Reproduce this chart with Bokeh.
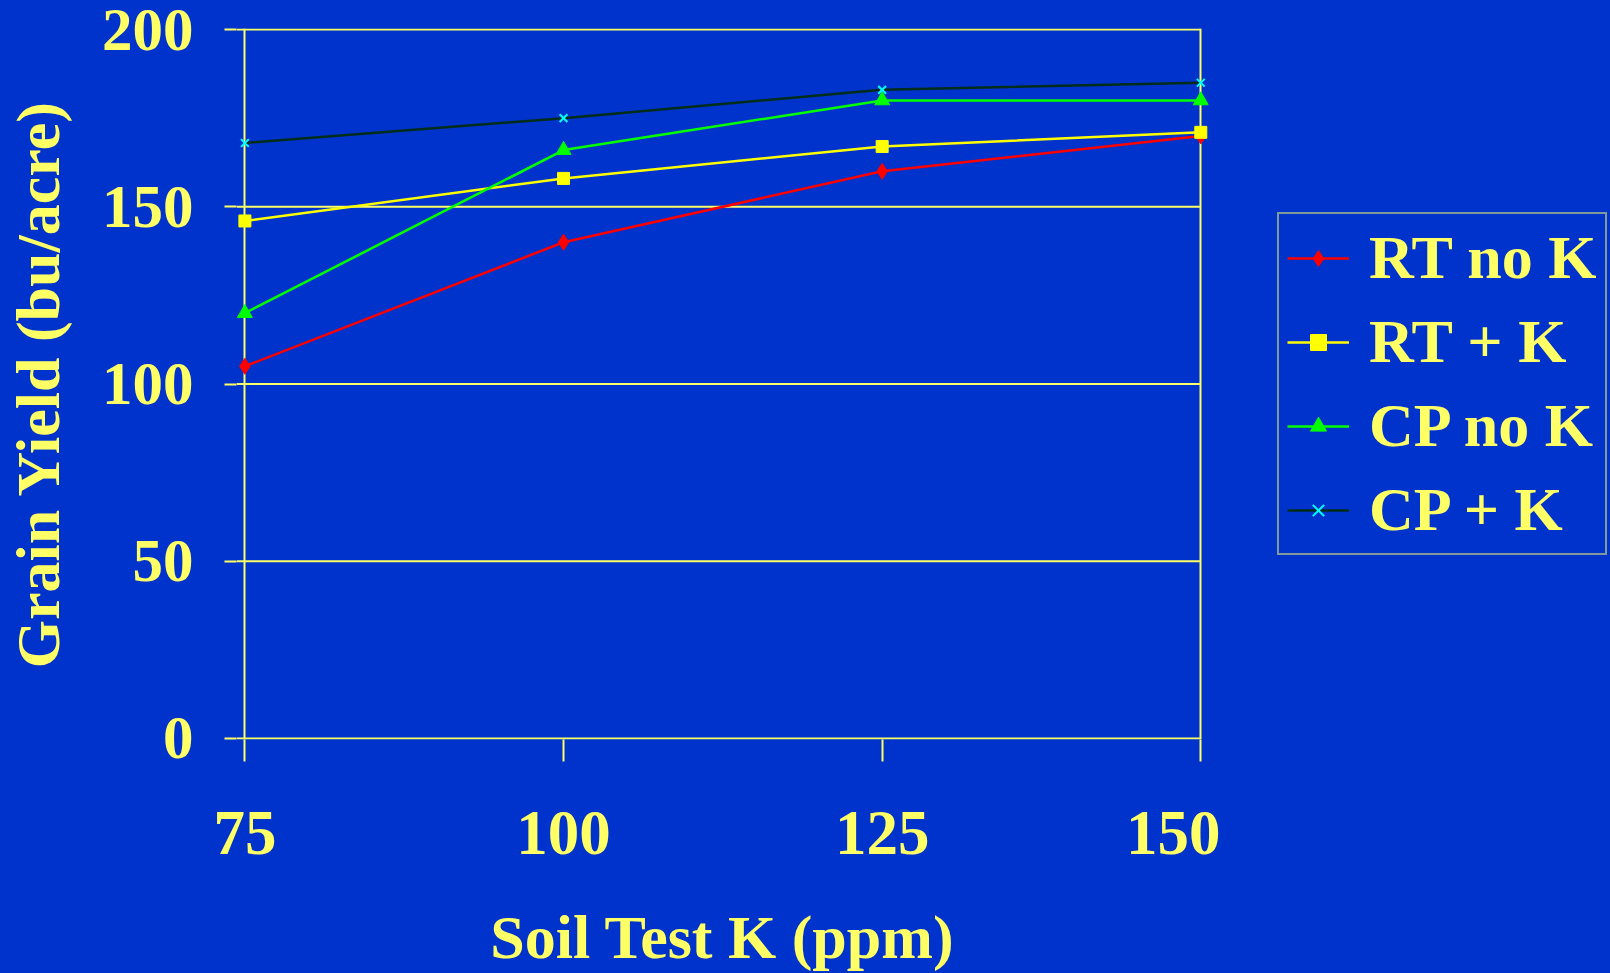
from bokeh.plotting import figure
from bokeh.layouts import row
from bokeh.models import Range1d, FixedTicker, Legend, LegendItem
from bokeh.embed import file_html
from bokeh.resources import INLINE

# ---- data ----
soil_k = [75, 100, 125, 150]
x_ticks = [75, 100, 125, 150]
y_ticks = [0, 50, 100, 150, 200]
rt_no_k = [105, 140, 160, 170]
rt_plus_k = [146, 158, 167, 171]
cp_no_k = [120, 166, 180, 180]
cp_plus_k = [168, 175, 183, 185]
series_names = ["RT no K", "RT + K", "CP no K", "CP + K"]
x_title = "Soil Test K (ppm)"
y_title = "Grain Yield (bu/acre)"

BG = "#0033CC"
YEL = "#FFFF66"
FONT = "Liberation Serif"

# a little room on both sides so the end markers are not cut by the frame
x_start, x_end = x_ticks[0] - 0.659, x_ticks[-1] + 0.604
y_start, y_end = y_ticks[0] - 0.3, y_ticks[-1] + 0.3

p = figure(width=1220, height=973, x_range=Range1d(x_start, x_end), y_range=Range1d(y_start, y_end),
           output_backend="svg", toolbar_location=None,
           min_border_left=236, min_border_right=12, min_border_top=28, min_border_bottom=234)
p.background_fill_color = BG
p.border_fill_color = BG
p.outline_line_color = None

# vertical frame lines at first and last category
p.xgrid.ticker = FixedTicker(ticks=[x_ticks[0], x_ticks[-1]])
p.xgrid.grid_line_color = YEL
p.xgrid.grid_line_width = 2
p.xgrid.bounds = (y_ticks[0], y_ticks[-1])
# horizontal grid lines, ending at the last category
p.ygrid.visible = False
n = len(y_ticks)
p.segment(x0=[x_start] * n, x1=[x_ticks[-1]] * n, y0=y_ticks, y1=y_ticks,
          line_color=YEL, line_width=2)

for ax in (p.xaxis[0], p.yaxis[0]):
    ax.axis_line_color = None
    ax.major_tick_line_color = YEL
    ax.major_tick_line_width = 2
    ax.major_tick_in = 0
    ax.minor_tick_line_color = None
    ax.major_label_text_font = FONT
    ax.major_label_text_font_style = "bold"
    ax.major_label_text_color = YEL
    ax.axis_label_text_font = FONT
    ax.axis_label_text_font_style = "bold"
    ax.axis_label_text_color = YEL

p.xaxis.ticker = FixedTicker(ticks=x_ticks)
p.xaxis.bounds = (x_ticks[0], x_ticks[-1])
p.xaxis.major_tick_out = 22
p.xaxis.major_label_text_font_size = "63px"
p.xaxis.major_label_standoff = 50
p.xaxis.axis_label = x_title
p.xaxis.axis_label_text_font_size = "62px"
p.xaxis.axis_label_standoff = 46

p.yaxis.ticker = FixedTicker(ticks=y_ticks)
p.yaxis.major_tick_out = 12
p.yaxis.major_label_text_font_size = "61px"
p.yaxis.major_label_standoff = 31
p.yaxis.axis_label = y_title
p.yaxis.axis_label_text_font_size = "62px"
p.yaxis.axis_label_standoff = 27

specs = [
    (rt_no_k, "#FF0000", "diamond", "#FF0000", 16),
    (rt_plus_k, "#FFFF00", "square", "#FFFF00", 12),
    (cp_no_k, "#00FF00", "triangle", "#00FF00", 15),
    (cp_plus_k, "#002E1A", "x", "#00FFFF", 11),
]

# legend panel: a second figure beside the chart, holding only the key
# (its ranges do not include the data, so only the key is visible there)
q = figure(width=390, height=973, x_range=Range1d(0, 1), y_range=Range1d(0, 1),
           output_backend="svg", toolbar_location=None, x_axis_type=None, y_axis_type=None,
           min_border_left=0, min_border_right=0, min_border_top=0, min_border_bottom=0)
q.background_fill_color = BG
q.border_fill_color = BG
q.outline_line_color = None
q.grid.visible = False

items = []
for name, (vals, lc, mk, mc, ms) in zip(series_names, specs):
    p.line(soil_k, vals, line_color=lc, line_width=2.5)
    p.scatter(soil_k, vals, marker=mk, size=ms, fill_color=mc, line_color=mc,
              line_width=2 if mk == "x" else 1)
    kl = q.line(soil_k, vals, line_color=lc, line_width=2.5)
    ks = q.scatter(soil_k, vals, marker=mk, size=ms, fill_color=mc, line_color=mc,
                   line_width=2 if mk == "x" else 1)
    items.append(LegendItem(label=name, renderers=[kl, ks]))

legend = Legend(items=items, location=(57, 184))
legend.label_text_font = FONT
legend.label_text_font_style = "bold"
legend.label_text_font_size = "62px"
legend.label_text_color = YEL
legend.border_line_color = YEL
legend.border_line_width = 2
legend.background_fill_color = BG
legend.background_fill_alpha = 1
legend.glyph_width = 62
legend.glyph_height = 40
legend.label_standoff = 20
legend.padding = 8
legend.spacing = 13
legend.margin = 0
q.add_layout(legend, "center")

layout = row(p, q, spacing=0)
html = file_html(layout, INLINE)
html = html.replace("</head>", "<style>html,body{background:%s;margin:0}</style></head>" % BG, 1)
open("out.html", "w").write(html)
